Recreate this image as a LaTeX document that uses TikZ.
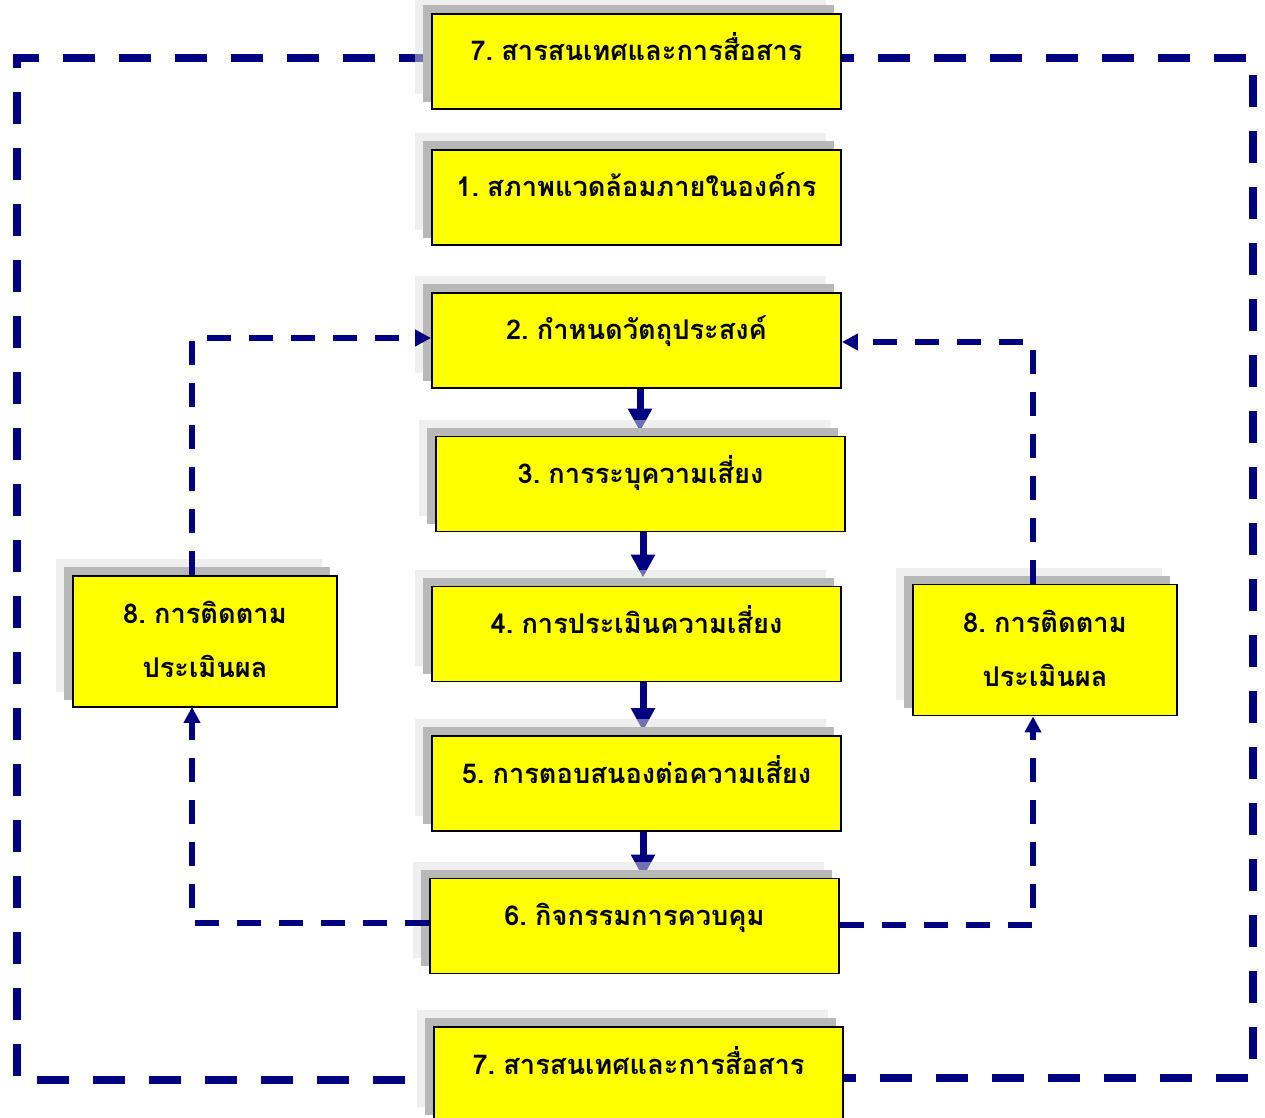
\documentclass[tikz,border=0pt]{standalone}
\usepackage{fontspec}
\newfontfamily\thaifont[Script=Thai,WordSpace=0.55]{Loma}
\usetikzlibrary{arrows.meta}
\definecolor{navy}{RGB}{0,0,128}
\definecolor{boxyellow}{RGB}{255,255,0}
\definecolor{lightshade}{RGB}{224,224,224}
\definecolor{darkshade}{RGB}{184,184,184}
\pgfdeclarelayer{lines}
\pgfdeclarelayer{shade}
\pgfdeclarelayer{links}
\pgfsetlayers{lines,shade,links,main}

\begin{document}
\begin{tikzpicture}[x=0.02cm,y=-0.02cm]
\tikzstyle{stage}=[draw=black,line width=1.1pt,fill=boxyellow,inner sep=0pt,
  minimum width=8.18cm,minimum height=1.9cm,text height=0.94cm,text depth=0.96cm,
  font=\thaifont\bfseries\fontsize{15.5pt}{31pt}\selectfont]
\tikzstyle{monitor}=[stage,minimum width=5.28cm,minimum height=2.62cm,align=center,
  text height=2.04cm,text depth=0.58cm]
\tikzstyle{flow}=[navy,line width=0.14cm,-{Triangle[length=0.46cm,width=0.46cm]}]
\tikzstyle{loop}=[navy,line width=0.12cm,dash pattern=on 0.48cm off 0.36cm,
  -{Triangle[length=0.32cm,width=0.32cm]}]
\tikzstyle{frame}=[navy,line width=0.16cm,dash pattern=on 0.64cm off 0.48cm]

\useasboundingbox (0,0) rectangle (1265,1118);

\node[stage] (b7a) at (636.5,61.5) {7. สารสนเทศและการสื่อสาร};
\node[stage] (b1) at (636.5,197.5) {1. สภาพแวดล้อมภายในองค์กร};
\node[stage] (b2) at (636.5,340.5) {2. กำหนดวัตถุประสงค์};
\node[stage] (b3) at (640.5,484) {3. การระบุความเสี่ยง};
\node[stage] (b4) at (636.5,634) {4. การประเมินความเสี่ยง};
\node[stage] (b5) at (636.5,783.5) {5. การตอบสนองต่อความเสี่ยง};
\node[stage] (b6) at (634.5,926) {6. กิจกรรมการควบคุม};
\node[stage] (b7b) at (638.5,1074.5) {7. สารสนเทศและการสื่อสาร};
\node[monitor] (b8L) at (205,641.5) {8. การติดตาม\\ประเมินผล};
\node[monitor] (b8R) at (1045,650) {8. การติดตาม\\ประเมินผล};

% shadows behind the boxes
\begin{pgfonlayer}{shade}
\foreach \n in {b7a,b1,b2,b3,b4,b5,b6,b7b,b8L,b8R}
{
  \fill[lightshade,opacity=0.5] ([shift={(-16,-16)}]\n.north west) rectangle ([shift={(-16,-16)}]\n.south east);
  \fill[darkshade] ([shift={(-8,-8)}]\n.north west) rectangle ([shift={(-8,-8)}]\n.south east);
}
\end{pgfonlayer}

\coordinate (oTL) at (17,58);
\coordinate (oTR) at (1253,58);
\coordinate (oBR) at (1253,1078);
\coordinate (oBL) at (17,1080);
\coordinate (iL) at (192,923);
\coordinate (iLT) at (192,338);
\coordinate (iR) at (1033,925);
\coordinate (iRT) at (1033,342);
\coordinate (ax) at (640,0);
\coordinate (bx) at (643,0);

\begin{pgfonlayer}{lines}
\draw[frame] (b7a.west |- oTL) -- (oTL) -- (oBL) -- (b7b.west |- oBL);
\draw[frame,dash phase=0.4cm] (b7a.east |- oTR) -- (oTR) -- (oBR) -- (b7b.east |- oBR);

\draw[flow,shorten >=0.08cm] (b2.south -| ax) -- (b3.north -| ax);
\draw[flow,shorten >=0.16cm] (b3.south -| bx) -- (b4.north -| bx);
\draw[flow,shorten >=0.08cm] (b4.south -| bx) -- (b5.north -| bx);
\draw[flow] (b5.south -| bx) -- (b6.north -| bx);
\end{pgfonlayer}

\begin{pgfonlayer}{links}
\draw[loop,shorten >=-0.02cm] (b6.west |- iL) -- (iL) -- (iL |- b8L.south);
\draw[loop] (iL |- b8L.north) -- (iLT) -- (b2.west |- iLT);
\draw[loop] (b6.east |- iR) -- (iR) -- (iR |- b8R.south);
\draw[loop] (iR |- b8R.north) -- (iRT) -- (b2.east |- iRT);
\end{pgfonlayer}

\end{tikzpicture}
\end{document}
